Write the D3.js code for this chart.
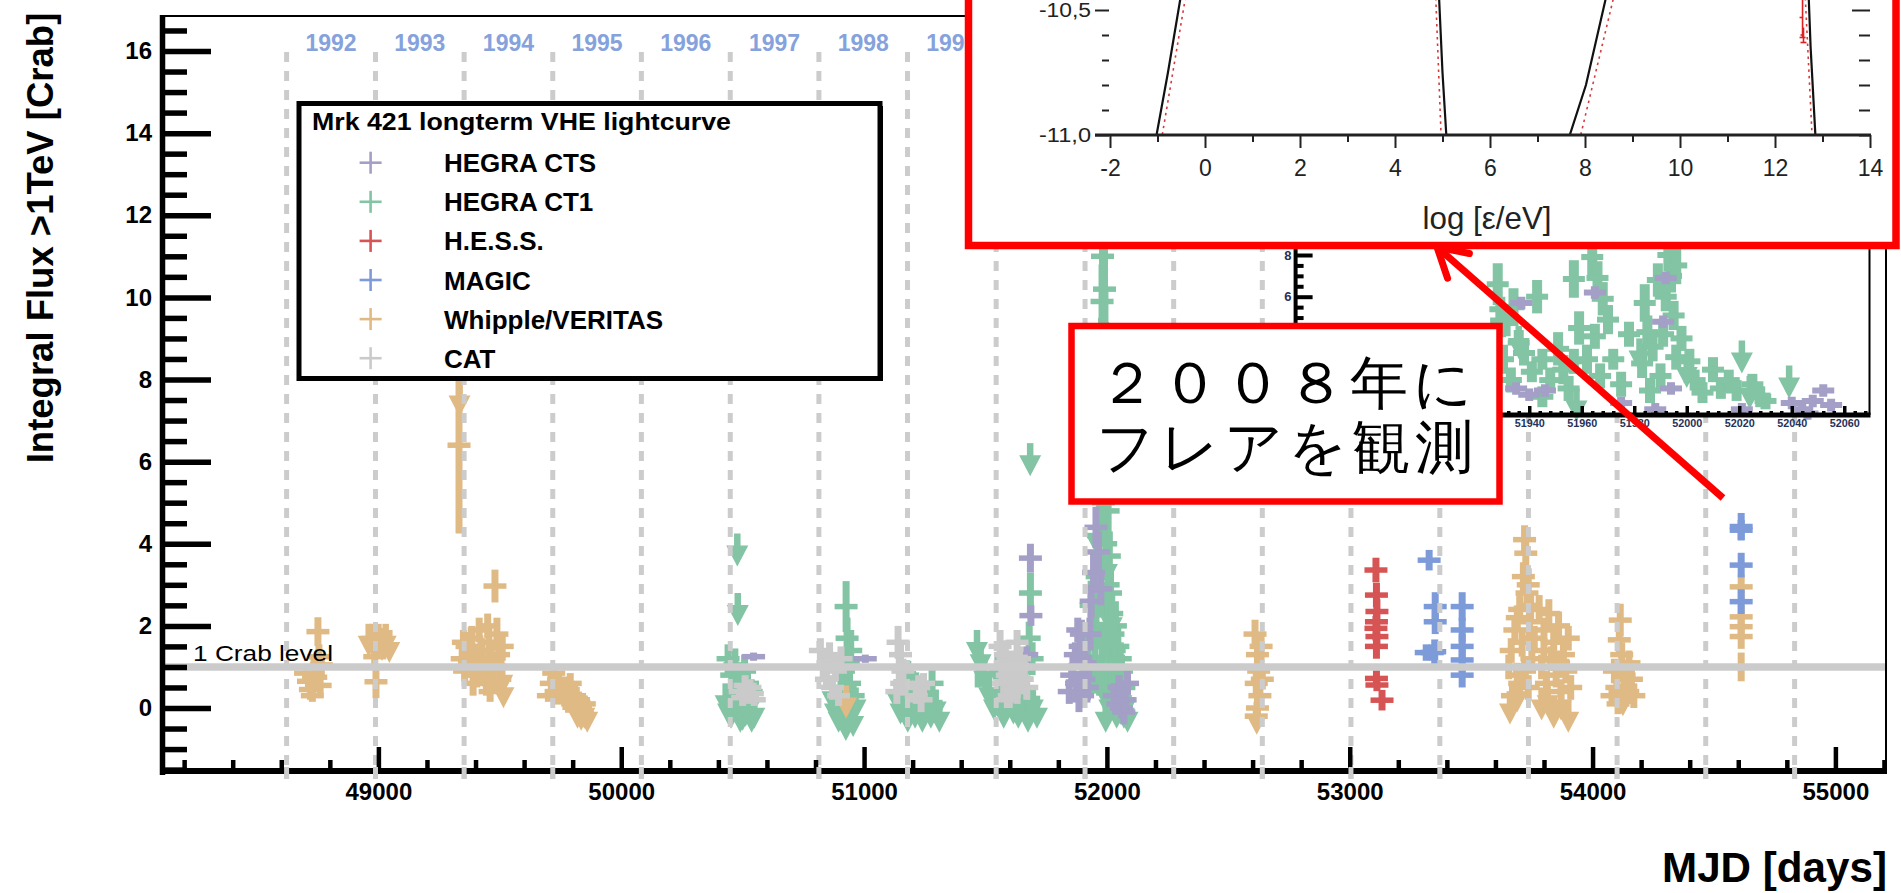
<!DOCTYPE html>
<html lang="ja">
<head>
<meta charset="utf-8">
<title>Mrk 421 longterm VHE lightcurve</title>
<script src="https://cdn.jsdelivr.net/npm/d3@7/dist/d3.min.js"></script>
<style>
  html, body { margin: 0; padding: 0; background: #fff; overflow: hidden; }
  svg { display: block; }
  text { font-family: "Liberation Sans", Arial, Helvetica, sans-serif; }
</style>
</head>
<body>
<svg id="chart" width="1901" height="893"></svg>
<script>
// ---------------- data ----------------
// MJD of 1 January for each observing year 1992 ... 2009
const seasonStarts = [48622, 48988, 49353, 49718, 50083, 50449, 50814, 51179, 51544,
                      51910, 52275, 52640, 53005, 53371, 53736, 54101, 54466, 54832];
const seasonLabels = ["1992", "1993", "1994", "1995", "1996", "1997", "1998", "1999"];
const mjdTicks = [49000, 50000, 51000, 52000, 53000, 54000, 55000];
const fluxTicks = [0, 2, 4, 6, 8, 10, 12, 14, 16];
const crabLevel = 1;

const instruments = ["HEGRA CTS", "HEGRA CT1", "H.E.S.S.", "MAGIC", "Whipple/VERITAS", "CAT"];
const instrumentColors = ["#a39fc6", "#82c4a3", "#d65454", "#7d9bd9", "#e0ba84", "#cacaca"];

// measurements: [MJD, integral flux > 1 TeV (Crab units), error]
const hegraCTS = [
  [50545, 1.25, 0.1], [51005, 1.2, 0.1],
  [51685, 3.65, 0.35], [51687, 2.25, 0.25], [51670, 1.3, 0.2],
  [51845, 0.4, 0.3], [51855, 0.8, 0.3], [51860, 1.0, 0.3], [51870, 1.3, 0.3], [51875, 0.6, 0.3],
  [51880, 1.9, 0.3], [51885, 0.2, 0.3], [51890, 1.5, 0.35], [51895, 1.8, 0.35], [51900, 0.3, 0.3],
  [51905, 0.7, 0.3], [51910, 1.1, 0.3], [51920, 0.5, 0.3], [51925, 1.0, 0.3], [51930, 1.8, 0.4],
  [51935, 2.6, 0.4], [51945, 3.3, 0.5], [51955, 4.4, 0.5], [51965, 3.8, 0.5], [51975, 2.9, 0.4],
  [52030, 0.3, 0.3], [52045, 0.1, 0.25], [52050, 0.5, 0.3], [52060, 0.0, 0.25], [52070, -0.1, 0.3],
  [52075, 0.2, 0.3], [52085, 0.6, 0.3]
];
const hegraCT1 = [
  [50440, 1.2, 0.35], [50455, 0.8, 0.3], [50468, 1.05, 0.4], [50480, 0.5, 0.4], [50495, 0.3, 0.35],
  [50508, 0.9, 0.4], [50520, 0.6, 0.35], [50535, 0.4, 0.3],
  [50926, 2.47, 0.62], [50930, 1.7, 0.5], [50935, 1.1, 0.5], [50915, 0.9, 0.4], [50940, 0.6, 0.4],
  [50945, 1.4, 0.5], [50905, 0.5, 0.4], [50955, 0.3, 0.35],
  [51160, 0.3, 0.4], [51200, 0.5, 0.4], [51260, 0.2, 0.3], [51280, 0.6, 0.35], [51180, 0.8, 0.35],
  [51685, 2.8, 0.5], [51680, 1.7, 0.4], [51692, 1.2, 0.4], [51470, 1.0, 0.5], [51600, 0.9, 0.4], [51650, 0.7, 0.4],
  [51985, 12.0, 1.5], [51990, 10.2, 1.0], [51980, 9.9, 0.9], [51995, 8.4, 1.0], [51975, 7.2, 0.9],
  [52000, 6.3, 0.8], [51970, 5.5, 0.8], [52005, 4.8, 0.7], [51965, 4.2, 0.7], [52010, 3.7, 0.6],
  [51960, 3.2, 0.6], [52015, 2.8, 0.6], [52020, 2.3, 0.5], [51955, 2.0, 0.5], [52025, 1.8, 0.5],
  [52030, 1.4, 0.4], [51950, 1.2, 0.4], [52035, 0.9, 0.4], [52040, 0.6, 0.35], [51945, 0.7, 0.35],
  [52050, 0.4, 0.3], [51900, 0.8, 0.4], [51920, 1.5, 0.5], [51935, 2.5, 0.6], [52060, 0.9, 0.4], [52070, 0.5, 0.3],
  [51995, 4.0, 0.8], [52005, 3.0, 0.7], [52015, 1.0, 0.5], [52025, 0.5, 0.5], [52035, 2.0, 0.6],
  [52045, 1.5, 0.5], [51985, 5.0, 1.0], [51990, 6.5, 1.2], [52000, 2.0, 0.8], [51975, 3.0, 0.8],
  [51980, 1.5, 0.6], [51970, 0.8, 0.5], [52055, 1.2, 0.4], [52065, 0.2, 0.4], [51990, 0.6, 0.5],
  [51982, 11.0, 1.2], [51992, 9.0, 1.2], [51978, 8.5, 1.0]
];
// upper limits: [MJD, flux upper limit (Crab units)]
const hegraCT1Limits = [
  [50478, 4.25], [50480, 2.8], [50430, 0.6], [50440, 0.4], [50452, 0.3], [50465, 0.55], [50490, 0.2],
  [50500, 0.25], [50512, 0.35], [50525, 0.45], [50537, 0.2], [50548, 0.3],
  [50880, 0.4], [50895, 0.2], [50910, 0.6], [50925, 0.0], [50940, 0.3], [50955, 0.1], [50870, 0.7],
  [50935, 1.5], [50965, 0.5],
  [51135, 0.7], [51150, 0.4], [51165, 0.5], [51180, 0.2], [51195, 0.6], [51210, 0.3], [51225, 0.5],
  [51240, 0.2], [51255, 0.4], [51275, 0.3], [51295, 0.45], [51310, 0.2],
  [51465, 1.9], [51480, 1.6], [51495, 1.2], [51515, 0.8], [51535, 0.5], [51555, 0.7], [51575, 0.3],
  [51595, 0.6], [51615, 0.4], [51635, 0.3], [51655, 0.5], [51675, 0.2], [51695, 0.5], [51712, 0.3],
  [51684, 6.45], [51550, 1.3], [51640, 1.2],
  [51960, 4.5], [52000, 3.8], [52020, 2.5], [52030, 1.5], [52045, 0.9], [52060, 0.6], [52010, 0.5],
  [51975, 1.0], [52070, 0.3], [51990, 2.0],
  [52040, 0.3], [52055, 0.4], [52075, 0.5], [52020, 0.8], [51995, 0.2], [52085, 0.2]
];
const hess = [
  [53108, 3.36, 0.3], [53110, 2.75, 0.3], [53112, 2.35, 0.3], [53110, 2.1, 0.3], [53108, 1.94, 0.3],
  [53112, 1.74, 0.3], [53110, 1.5, 0.3], [53110, 0.72, 0.2], [53112, 0.56, 0.15], [53133, 0.19, 0.25]
];
const magic = [
  [53327, 3.6, 0.25], [53352, 2.47, 0.35], [53352, 2.1, 0.3], [53350, 1.37, 0.3], [53315, 1.35, 0.2],
  [53340, 1.35, 0.2], [53463, 2.47, 0.35], [53463, 1.9, 0.3], [53463, 1.5, 0.3], [53463, 1.17, 0.3],
  [53463, 0.8, 0.3],
  [54612, 4.42, 0.33], [54612, 4.33, 0.25], [54612, 3.48, 0.3], [54612, 2.59, 0.3]
];
const whipple = [
  [48700, 0.85, 0.15], [48712, 0.65, 0.2], [48720, 0.45, 0.25], [48728, 0.3, 0.15], [48735, 1.0, 0.3],
  [48742, 0.75, 0.2], [48751, 1.86, 0.35], [48755, 1.25, 0.3], [48760, 0.55, 0.2], [48765, 1.05, 0.25],
  [48985, 1.25, 0.3], [48990, 0.64, 0.4], [49005, 1.5, 0.3],
  [49332, 6.4, 2.15],
  [49345, 1.2, 0.3], [49355, 0.9, 0.25], [49365, 1.5, 0.35], [49375, 1.1, 0.3], [49385, 1.7, 0.3],
  [49395, 1.3, 0.25], [49405, 0.8, 0.3], [49415, 1.9, 0.3], [49425, 1.4, 0.3], [49435, 1.0, 0.25],
  [49445, 0.6, 0.3], [49455, 1.6, 0.35], [49465, 1.2, 0.3], [49472, 0.9, 0.25], [49480, 2.97, 0.4],
  [49488, 1.8, 0.4], [49495, 1.3, 0.3], [49500, 0.7, 0.3], [49505, 1.0, 0.3], [49510, 1.5, 0.35],
  [49350, 1.6, 0.3], [49390, 0.6, 0.3], [49420, 1.1, 0.3], [49450, 2.0, 0.3], [49460, 0.4, 0.25],
  [49700, 0.3, 0.15], [49712, 0.6, 0.25], [49722, 0.85, 0.2], [49732, 0.4, 0.25], [49742, 0.7, 0.2],
  [49752, 0.3, 0.2], [49762, 0.55, 0.2], [49772, 0.15, 0.2], [49782, 0.45, 0.2], [49790, 0.6, 0.25],
  [49800, 0.1, 0.2], [49808, 0.3, 0.25], [49816, -0.05, 0.2], [49824, 0.2, 0.2], [49832, 0.0, 0.2],
  [49840, -0.1, 0.25], [49848, 0.1, 0.2],
  [52610, 1.8, 0.35], [52620, 1.3, 0.3], [52625, 0.9, 0.3], [52615, 0.6, 0.3], [52630, 0.3, 0.3],
  [52620, 0.0, 0.3], [52635, 1.5, 0.35], [52640, 0.7, 0.25], [52615, -0.2, 0.2],
  [53720, 4.1, 0.35], [53725, 3.77, 0.3], [53715, 3.2, 0.35], [53730, 2.8, 0.4], [53700, 2.4, 0.35],
  [53740, 2.1, 0.35], [53680, 1.9, 0.3], [53710, 1.6, 0.35], [53665, 1.4, 0.3], [53750, 1.2, 0.35],
  [53655, 1.0, 0.3], [53690, 0.8, 0.3], [53735, 0.5, 0.3], [53670, 0.3, 0.3], [53700, 0.6, 0.3],
  [53760, 1.7, 0.3], [53745, 2.5, 0.35], [53720, 0.9, 0.3], [53735, 3.0, 0.4], [53690, 2.2, 0.3],
  [53780, 2.4, 0.35], [53800, 1.9, 0.3], [53820, 2.3, 0.35], [53840, 1.6, 0.3], [53860, 2.0, 0.35],
  [53880, 1.3, 0.3], [53900, 1.7, 0.3], [53790, 1.0, 0.3], [53810, 0.6, 0.3], [53830, 1.2, 0.3],
  [53850, 0.8, 0.3], [53870, 0.4, 0.3], [53890, 0.9, 0.3], [53910, 0.5, 0.3], [53800, 1.4, 0.3],
  [53860, 1.1, 0.3],
  [54114, 2.14, 0.4], [54110, 1.66, 0.3], [54120, 1.3, 0.3], [54090, 0.9, 0.3], [54100, 0.5, 0.3],
  [54130, 0.8, 0.3], [54145, 0.4, 0.3], [54160, 0.7, 0.3], [54080, 0.3, 0.25], [54150, 1.1, 0.3],
  [54170, 0.3, 0.3], [54105, 0.1, 0.25],
  [54612, 2.95, 0.3], [54612, 2.22, 0.3], [54612, 1.98, 0.25], [54612, 1.74, 0.3], [54612, 1.0, 0.35]
];
const whippleLimits = [
  [48960, 2.05], [48975, 2.05], [48990, 2.0], [49000, 2.05], [49015, 1.95], [49030, 2.05], [49045, 1.9],
  [49334, 7.9],
  [49440, 1.2], [49500, 1.0], [49510, 1.1], [49515, 0.8],
  [49820, 0.3], [49835, 0.25], [49848, 0.3], [49860, 0.2],
  [50926, 0.55], [52617, 0.15],
  [53660, 0.4], [53690, 0.7], [53790, 0.5], [53815, 0.6], [53840, 0.3], [53870, 0.5], [53900, 0.2],
  [54125, 0.6]
];
const cat = [
  [50490, 0.4, 0.2], [50500, 0.25, 0.2], [50510, 0.55, 0.25], [50520, 0.3, 0.2], [50530, 0.5, 0.2],
  [50540, 0.35, 0.2], [50548, 0.2, 0.15],
  [50820, 1.4, 0.3], [50832, 1.0, 0.3], [50845, 0.7, 0.25], [50858, 1.3, 0.3], [50870, 0.5, 0.3],
  [50882, 0.9, 0.25], [50895, 0.3, 0.25], [50905, 1.2, 0.3],
  [51140, 1.6, 0.4], [51145, 1.0, 0.35], [51150, 1.3, 0.3], [51155, 0.6, 0.3], [51160, 0.9, 0.3],
  [51135, 0.4, 0.3], [51225, 0.5, 0.3], [51235, 0.2, 0.3], [51245, 0.6, 0.25], [51215, 0.3, 0.2],
  [51560, 1.5, 0.4], [51567, 1.0, 0.35], [51575, 0.6, 0.3], [51582, 1.3, 0.35], [51590, 0.8, 0.3],
  [51598, 0.3, 0.3], [51606, 1.1, 0.3], [51614, 0.6, 0.3], [51622, 0.9, 0.3], [51630, 0.4, 0.3],
  [51640, 1.2, 0.3], [51650, 0.7, 0.3], [51660, 1.0, 0.3], [51670, 0.5, 0.3], [51590, 0.2, 0.2],
  [51630, 1.6, 0.3]
];

// zoom on the 2001 flare
const flareMjdTicks = [51860, 51880, 51900, 51920, 51940, 51960, 51980, 52000, 52020, 52040, 52060];
const flareFluxTicks = [2, 4, 6, 8, 10];
const flareCT1 = [
  [51928, 6.6, 1.0], [51929, 5.4, 0.6], [51927, 4.2, 0.8], [51930, 3.0, 0.7], [51933, 2.0, 0.6],
  [51934, 5.5, 0.9], [51943, 6.0, 0.8], [51938, 3.3, 0.6], [51941, 2.4, 0.5], [51945, 3.0, 0.5],
  [51957, 6.85, 0.9], [51951, 3.5, 0.8], [51953, 2.5, 0.7], [51955, 1.6, 0.6], [51957, 2.9, 0.6],
  [51964, 7.9, 0.9], [51966, 6.9, 0.8], [51968, 5.9, 0.8], [51970, 4.9, 0.7], [51965, 4.1, 0.6],
  [51972, 3.0, 0.5], [51984, 5.7, 0.9], [51985, 4.3, 0.8], [51983, 2.8, 0.7], [51986, 1.5, 0.6],
  [51993, 8.0, 0.8], [51994, 7.0, 0.8], [51992, 6.0, 0.7], [51995, 5.1, 0.7], [51991, 4.2, 0.6],
  [51996, 3.1, 0.6], [51990, 2.2, 0.6], [52001, 2.9, 0.6], [52003, 2.0, 0.5], [52010, 2.5, 0.6],
  [52013, 1.6, 0.5], [52016, 2.0, 0.5], [52025, 1.8, 0.5], [52028, 1.2, 0.5],
  [51931, 4.8, 0.7], [51936, 3.8, 0.6], [51948, 2.0, 0.6], [51959, 4.5, 0.8], [51962, 3.0, 0.7],
  [51967, 2.2, 0.6], [51975, 1.8, 0.6], [51978, 4.2, 0.6], [51987, 3.6, 0.7], [51998, 4.0, 0.6],
  [52006, 1.4, 0.5], [52019, 1.5, 0.5], [52030, 1.0, 0.4], [51945, 1.2, 0.5], [51989, 6.8, 0.8],
  [51996, 7.5, 0.9]
];
const flareCT1Limits = [
  [51982, 4.0], [52000, 3.2], [52021, 3.9], [52024, 2.2], [52039, 2.7], [51936, 4.6], [51958, 1.6]
];
const flareCTS = [
  [51937, 5.7, 0.3], [51935, 1.6, 0.3], [51940, 1.3, 0.3], [51946, 1.5, 0.3], [51965, 6.2, 0.3],
  [51992, 6.9, 0.3], [51991, 4.8, 0.3], [51994, 1.6, 0.3], [52040, 0.9, 0.3], [52044, 0.6, 0.3],
  [52048, 1.0, 0.3], [52052, 1.5, 0.3], [52055, 0.8, 0.3], [52046, 0.4, 0.3], [51975, 0.9, 0.3],
  [51988, 0.6, 0.3], [52021, 0.6, 0.3]
];

// spectral energy distribution panel: log(eps/eV) vs log(nu F_nu)
const sedEnergyTicks = [-2, 0, 2, 4, 6, 8, 10, 12, 14];
const sedEnergyMinor = [-1, 1, 3, 5, 7, 9, 11, 13];
const sedFluxTicks = [-11.0, -10.5];
const sedFluxMinor = [-10.9, -10.8, -10.7, -10.6, -10.4];
const sedModel = [
  [[-1.06, -11.05], [-1.02, -11.0], [-0.78, -10.75], [-0.47, -10.4]],
  [[4.91, -10.4], [4.93, -10.46], [5.0, -10.75], [5.08, -11.0], [5.09, -11.05]],
  [[7.65, -11.05], [7.68, -11.0], [8.02, -10.8], [8.43, -10.46], [8.5, -10.4]],
  [[12.7, -10.4], [12.75, -10.65], [12.85, -11.0], [12.86, -11.05]]
];
const sedModelAlt = [
  [[-0.94, -11.05], [-0.9, -11.0], [-0.42, -10.46], [-0.37, -10.4]],
  [[4.85, -10.4], [4.86, -10.46], [4.97, -11.0], [4.98, -11.05]],
  [[7.87, -11.05], [7.91, -11.0], [8.59, -10.46], [8.65, -10.4]],
  [[12.63, -10.4], [12.64, -10.46], [12.78, -11.0], [12.79, -11.05]]
];
const sedPoints = [[12.58, -10.53, 0.08], [12.6, -10.6, 0.03]];

// ---------------- layout ----------------
const svg = d3.select("#chart");
const plot = { left: 162, right: 1886, top: 16, bottom: 772 };
const x = d3.scaleLinear().domain([49000, 55000]).range([378.4, 1835.4]);
const y = d3.scaleLinear().domain([0, 16]).range([708, 51]);
const colorOf = name => instrumentColors[instruments.indexOf(name)];

// panels drawn on top of the light curve
const noteBox = { x: 1071.5, y: 326, w: 428, h: 175.5 };
const sedBox = { x: 968.5, y: -10, w: 927.5, h: 255.5 };
const covered = (px, py) =>
  (px > noteBox.x - 4 && px < noteBox.x + noteBox.w + 4 && py > noteBox.y - 4 && py < noteBox.y + noteBox.h + 4) ||
  (px > sedBox.x - 4 && py < sedBox.y + sedBox.h + 4);

const defs = svg.append("defs");
defs.append("clipPath").attr("id", "clip-main").append("rect")
  .attr("x", plot.left).attr("y", plot.top)
  .attr("width", plot.right - plot.left).attr("height", plot.bottom - plot.top);

// error-bar crosses
function drawCrosses(g, rows, xs, ys, color, arm, vWidth, hWidth) {
  const sel = g.selectAll(null).data(rows).enter().append("g");
  sel.append("line")
    .attr("x1", d => xs(d[0])).attr("x2", d => xs(d[0]))
    .attr("y1", d => ys(d[1] + d[2])).attr("y2", d => ys(d[1] - d[2]))
    .attr("stroke", color).attr("stroke-width", vWidth);
  sel.append("line")
    .attr("x1", d => xs(d[0]) - arm).attr("x2", d => xs(d[0]) + arm)
    .attr("y1", d => ys(d[1])).attr("y2", d => ys(d[1]))
    .attr("stroke", color).attr("stroke-width", hWidth);
}
// upper-limit arrows
function drawLimits(g, rows, xs, ys, color) {
  const sel = g.selectAll(null).data(rows).enter().append("g");
  sel.append("line")
    .attr("x1", d => xs(d[0])).attr("x2", d => xs(d[0]))
    .attr("y1", d => ys(d[1])).attr("y2", d => ys(d[1]) + 13)
    .attr("stroke", color).attr("stroke-width", 6.5);
  sel.append("path")
    .attr("d", d => {
      const px = xs(d[0]), py = ys(d[1]);
      return `M${px - 11},${py + 12}L${px + 11},${py + 12}L${px},${py + 33}Z`;
    })
    .attr("fill", color);
}

// ---------------- main light curve ----------------
const dataLayer = svg.append("g").attr("clip-path", "url(#clip-main)");
const VW = 7, HW = 5.5, ARM = 11.5;
drawCrosses(dataLayer, hegraCT1, x, y, colorOf("HEGRA CT1"), ARM, VW, HW);
drawLimits(dataLayer, hegraCT1Limits, x, y, colorOf("HEGRA CT1"));
drawCrosses(dataLayer, hegraCTS, x, y, colorOf("HEGRA CTS"), ARM, VW, HW);
drawCrosses(dataLayer, hess, x, y, colorOf("H.E.S.S."), ARM, VW, HW);
drawCrosses(dataLayer, whipple, x, y, colorOf("Whipple/VERITAS"), ARM, VW, HW);
drawLimits(dataLayer, whippleLimits, x, y, colorOf("Whipple/VERITAS"));
drawCrosses(dataLayer, magic, x, y, colorOf("MAGIC"), ARM, VW, HW);
drawCrosses(dataLayer, cat, x, y, colorOf("CAT"), ARM, VW, HW);

// year boundaries
svg.append("g").selectAll("line").data(seasonStarts).enter().append("line")
  .attr("x1", d => x(d)).attr("x2", d => x(d))
  .attr("y1", 52).attr("y2", 779)
  .attr("stroke", "#cccccc").attr("stroke-width", 5)
  .attr("stroke-dasharray", "10,9");

svg.append("g").selectAll("text").data(seasonLabels).enter().append("text")
  .attr("x", (d, i) => (x(seasonStarts[i]) + x(seasonStarts[i + 1])) / 2)
  .attr("y", 51)
  .attr("text-anchor", "middle")
  .attr("font-size", 23).attr("font-weight", "bold")
  .attr("fill", "#86a2dc")
  .text(d => d);

// 1 Crab reference level
svg.append("line")
  .attr("x1", plot.left).attr("x2", plot.right)
  .attr("y1", y(crabLevel)).attr("y2", y(crabLevel))
  .attr("stroke", "#cbcbcb").attr("stroke-width", 7.5);
svg.append("text")
  .attr("x", 193).attr("y", y(crabLevel) - 6)
  .attr("font-size", 22).attr("fill", "#000")
  .attr("textLength", 140).attr("lengthAdjust", "spacingAndGlyphs")
  .text("1 Crab level");

// frame
svg.append("line").attr("x1", plot.left).attr("x2", plot.right)
  .attr("y1", plot.top).attr("y2", plot.top).attr("stroke", "#000").attr("stroke-width", 2);
svg.append("line").attr("x1", plot.right).attr("x2", plot.right)
  .attr("y1", plot.top).attr("y2", plot.bottom).attr("stroke", "#000").attr("stroke-width", 2);

// y axis: inward ticks
const yMinor = d3.range(-3, 34).map(k => k / 2).filter(v => v % 2 !== 0);
const yAxisMinor = svg.append("g").attr("transform", `translate(${plot.left},0)`)
  .call(d3.axisRight(y).tickValues(yMinor).tickSize(25).tickFormat(""));
const yAxisMajor = svg.append("g").attr("transform", `translate(${plot.left},0)`)
  .call(d3.axisRight(y).tickValues(fluxTicks).tickSize(49).tickFormat(""));
[yAxisMinor, yAxisMajor].forEach(g => {
  g.select(".domain").remove();
  g.selectAll("line").attr("stroke", "#000").attr("stroke-width", 5.5);
});
const yLabels = svg.append("g").attr("transform", `translate(${plot.left},0)`)
  .call(d3.axisLeft(y).tickValues(fluxTicks).tickSize(0).tickPadding(10));
yLabels.select(".domain").remove();
yLabels.selectAll("text").attr("font-size", 24).attr("font-weight", "bold")
  .attr("fill", "#000").attr("font-family", "Liberation Sans, Arial, sans-serif");
svg.append("line").attr("x1", plot.left + 0.5).attr("x2", plot.left + 0.5)
  .attr("y1", plot.top - 1).attr("y2", plot.bottom + 3)
  .attr("stroke", "#000").attr("stroke-width", 5.5);

// x axis: inward ticks
const xMinor = d3.range(48200, 55201, 200).filter(v => v % 1000 !== 0);
const xAxisMinor = svg.append("g").attr("transform", `translate(0,${plot.bottom - 1})`)
  .call(d3.axisTop(x).tickValues(xMinor).tickSize(11).tickFormat(""));
const xAxisMajor = svg.append("g").attr("transform", `translate(0,${plot.bottom - 1})`)
  .call(d3.axisTop(x).tickValues(mjdTicks).tickSize(24).tickFormat(""));
[xAxisMinor, xAxisMajor].forEach(g => {
  g.select(".domain").remove();
  g.selectAll("line").attr("stroke", "#000").attr("stroke-width", 4.5);
});
svg.append("line").attr("x1", plot.left - 2).attr("x2", plot.right + 1)
  .attr("y1", plot.bottom - 1).attr("y2", plot.bottom - 1)
  .attr("stroke", "#000").attr("stroke-width", 6);
const xLabels = svg.append("g").attr("transform", `translate(0,${plot.bottom})`)
  .call(d3.axisBottom(x).tickValues(mjdTicks).tickSize(0).tickPadding(11).tickFormat(d3.format("d")));
xLabels.select(".domain").remove();
xLabels.selectAll("text").attr("font-size", 24).attr("font-weight", "bold")
  .attr("fill", "#000").attr("font-family", "Liberation Sans, Arial, sans-serif");

// grid dashes cross the bottom axis line
svg.append("g").selectAll("line").data(seasonStarts).enter().append("line")
  .attr("x1", d => x(d)).attr("x2", d => x(d))
  .attr("y1", 767).attr("y2", 779)
  .attr("stroke", "#cccccc").attr("stroke-width", 5);

// axis titles
svg.append("text")
  .attr("transform", "translate(53,238) rotate(-90)")
  .attr("text-anchor", "middle")
  .attr("font-size", 36.5).attr("font-weight", "bold").attr("fill", "#000")
  .text("Integral Flux >1TeV [Crab]");
svg.append("text")
  .attr("x", 1887).attr("y", 882)
  .attr("text-anchor", "end")
  .attr("font-size", 42).attr("font-weight", "bold").attr("fill", "#000")
  .attr("textLength", 225).attr("lengthAdjust", "spacingAndGlyphs")
  .text("MJD [days]");

// ---------------- legend ----------------
const legend = svg.append("g");
legend.append("rect").attr("x", 299).attr("y", 103.5).attr("width", 581).attr("height", 275)
  .attr("fill", "#fff").attr("stroke", "#000").attr("stroke-width", 5);
legend.append("line").attr("x1", 301).attr("x2", 882).attr("y1", 379.5).attr("y2", 379.5)
  .attr("stroke", "#000").attr("stroke-width", 3);
legend.append("line").attr("x1", 881.5).attr("x2", 881.5).attr("y1", 106).attr("y2", 381)
  .attr("stroke", "#000").attr("stroke-width", 3);
legend.append("text").attr("x", 312).attr("y", 130)
  .attr("font-size", 23).attr("font-weight", "bold")
  .attr("textLength", 419).attr("lengthAdjust", "spacingAndGlyphs")
  .text("Mrk 421 longterm VHE lightcurve");
const rows = legend.selectAll("g.row").data(instruments).enter().append("g")
  .attr("class", "row")
  .attr("transform", (d, i) => `translate(0,${162.7 + i * 39.1})`);
rows.append("line").attr("x1", 359.6).attr("x2", 381.6).attr("y1", 0).attr("y2", 0)
  .attr("stroke", (d, i) => instrumentColors[i]).attr("stroke-width", 2.6);
rows.append("line").attr("x1", 370.6).attr("x2", 370.6).attr("y1", -11).attr("y2", 11)
  .attr("stroke", (d, i) => instrumentColors[i]).attr("stroke-width", 2.6);
rows.append("text").attr("x", 444).attr("y", 9.5)
  .attr("font-size", 26).attr("font-weight", "bold").attr("fill", "#000")
  .text(d => d);

// ---------------- 2001 flare zoom panel ----------------
const fx = d3.scaleLinear().domain([51851, 52070]).range([1295.6, 1870.5]);
const fy = d3.scaleLinear().domain([6, 8]).range([296.7, 255]);
const flareBox = { left: 1295.6, right: 1869.5, top: 100, bottom: 415 };
defs.append("clipPath").attr("id", "clip-flare").append("rect")
  .attr("x", flareBox.left).attr("y", flareBox.top)
  .attr("width", flareBox.right - flareBox.left).attr("height", 421 - flareBox.top);

const flare = svg.append("g");
flare.append("rect").attr("x", flareBox.left).attr("y", flareBox.top)
  .attr("width", plot.right - 1 - flareBox.left).attr("height", flareBox.bottom - flareBox.top)
  .attr("fill", "#fff");
const flareData = flare.append("g").attr("clip-path", "url(#clip-flare)");
drawCrosses(flareData, flareCT1, fx, fy, colorOf("HEGRA CT1"), 11, 10, 6);
drawLimits(flareData, flareCT1Limits, fx, fy, colorOf("HEGRA CT1"));
drawCrosses(flareData, flareCTS, fx, fy, colorOf("HEGRA CTS"), 11, 8, 6);

flare.append("line").attr("x1", flareBox.right).attr("x2", flareBox.right)
  .attr("y1", flareBox.top).attr("y2", flareBox.bottom)
  .attr("stroke", "#000").attr("stroke-width", 2);
const fyMinor = d3.range(1, 21).map(k => k / 2).filter(v => v % 2 !== 0);
const fyAxisMinor = flare.append("g").attr("transform", `translate(${flareBox.left},0)`)
  .call(d3.axisRight(fy).tickValues(fyMinor).tickSize(8).tickFormat(""));
const fyAxisMajor = flare.append("g").attr("transform", `translate(${flareBox.left},0)`)
  .call(d3.axisRight(fy).tickValues(flareFluxTicks).tickSize(17).tickFormat(""));
[fyAxisMinor, fyAxisMajor].forEach(g => {
  g.select(".domain").remove();
  g.selectAll("line").attr("stroke", "#000").attr("stroke-width", 4);
});
// tick labels only where the panel is not overlapped
const fyLabels = flare.append("g").attr("transform", `translate(${flareBox.left - 2},0)`)
  .call(d3.axisLeft(fy).tickValues(flareFluxTicks.filter(v => !covered(flareBox.left - 8, fy(v))))
    .tickSize(0).tickPadding(2).tickFormat(d3.format("d")));
fyLabels.select(".domain").remove();
fyLabels.selectAll("text").attr("font-size", 13).attr("font-weight", "bold").attr("fill", "#26315a")
  .attr("font-family", "Liberation Sans, Arial, sans-serif");
flare.append("line").attr("x1", flareBox.left).attr("x2", flareBox.left)
  .attr("y1", flareBox.top).attr("y2", flareBox.bottom + 2)
  .attr("stroke", "#000").attr("stroke-width", 4);

const fxMinor = d3.range(51852, 52069, 4).filter(v => (v - 51860) % 20 !== 0);
const fxAxisMinor = flare.append("g").attr("transform", `translate(0,${flareBox.bottom})`)
  .call(d3.axisTop(fx).tickValues(fxMinor).tickSize(4).tickFormat(""));
const fxAxisMajor = flare.append("g").attr("transform", `translate(0,${flareBox.bottom})`)
  .call(d3.axisTop(fx).tickValues(flareMjdTicks).tickSize(9).tickFormat(""));
[fxAxisMinor, fxAxisMajor].forEach(g => {
  g.select(".domain").remove();
  g.selectAll("line").attr("stroke", "#000").attr("stroke-width", 3.5);
});
flare.append("line").attr("x1", flareBox.left).attr("x2", flareBox.right + 1)
  .attr("y1", flareBox.bottom).attr("y2", flareBox.bottom)
  .attr("stroke", "#000").attr("stroke-width", 5);
const fxLabels = flare.append("g").attr("transform", `translate(0,${flareBox.bottom + 2})`)
  .call(d3.axisBottom(fx).tickValues(flareMjdTicks.filter(v => !covered(fx(v) - 16, flareBox.bottom + 8)))
    .tickSize(0).tickPadding(3).tickFormat(d3.format("d")));
fxLabels.select(".domain").remove();
fxLabels.selectAll("text").attr("font-size", 10).attr("font-weight", "bold").attr("fill", "#26315a")
  .attr("font-family", "Liberation Sans, Arial, sans-serif")
  .attr("textLength", 30).attr("lengthAdjust", "spacingAndGlyphs");

// ---------------- SED panel ----------------
const sx = d3.scaleLinear().domain([-2, 14]).range([1110, 1870]);
const sy = d3.scaleLinear().domain([-11, -10.5]).range([135, 10]);
defs.append("clipPath").attr("id", "clip-sed").append("rect")
  .attr("x", 1110).attr("y", -20).attr("width", 760).attr("height", 155);

const sed = svg.append("g");
sed.append("rect").attr("x", sedBox.x).attr("y", sedBox.y).attr("width", sedBox.w).attr("height", sedBox.h)
  .attr("fill", "#fff").attr("stroke", "#ff0000").attr("stroke-width", 7.5);

const sedLine = d3.line().x(d => sx(d[0])).y(d => sy(d[1]));
const sedCurves = sed.append("g").attr("clip-path", "url(#clip-sed)");
sedCurves.selectAll("path.alt").data(sedModelAlt).enter().append("path")
  .attr("class", "alt").attr("d", sedLine).attr("fill", "none")
  .attr("stroke", "#d23c3c").attr("stroke-width", 1.6).attr("stroke-dasharray", "2.5,4");
sedCurves.selectAll("path.model").data(sedModel).enter().append("path")
  .attr("class", "model").attr("d", sedLine).attr("fill", "none")
  .attr("stroke", "#111").attr("stroke-width", 2.2);
const sedPts = sedCurves.selectAll("g.pt").data(sedPoints).enter().append("g").attr("class", "pt");
sedPts.append("line")
  .attr("x1", d => sx(d[0])).attr("x2", d => sx(d[0]))
  .attr("y1", d => sy(d[1] + d[2])).attr("y2", d => sy(d[1] - d[2]))
  .attr("stroke", "#e02020").attr("stroke-width", 1.6);
sedPts.append("line")
  .attr("x1", d => sx(d[0]) - 3).attr("x2", d => sx(d[0]) + 3)
  .attr("y1", d => sy(d[1] - d[2])).attr("y2", d => sy(d[1] - d[2]))
  .attr("stroke", "#e02020").attr("stroke-width", 1.6);
sedPts.append("line")
  .attr("x1", d => sx(d[0]) - 3).attr("x2", d => sx(d[0]))
  .attr("y1", d => sy(d[1])).attr("y2", d => sy(d[1]))
  .attr("stroke", "#e02020").attr("stroke-width", 1.6);

function styleSedAxis(g) {
  g.select(".domain").remove();
  g.selectAll("line").attr("stroke", "#222").attr("stroke-width", 2);
}
styleSedAxis(sed.append("g").attr("transform", "translate(0,135)")
  .call(d3.axisBottom(sx).tickValues(sedEnergyMinor).tickSize(7).tickFormat("")));
const sedXMajor = sed.append("g").attr("transform", "translate(0,135)")
  .call(d3.axisBottom(sx).tickValues(sedEnergyTicks).tickSize(13).tickPadding(12).tickFormat(d3.format("d")));
styleSedAxis(sedXMajor);
sedXMajor.selectAll("text").attr("font-size", 23).attr("fill", "#222")
  .attr("font-family", "Liberation Sans, Arial, sans-serif")
  .text(d => (d < 0 ? "-" + Math.abs(d) : d));
styleSedAxis(sed.append("g").attr("transform", "translate(1109,0)")
  .call(d3.axisLeft(sy).tickValues(sedFluxMinor).tickSize(7).tickFormat("")));
const sedYMajor = sed.append("g").attr("transform", "translate(1109,0)")
  .call(d3.axisLeft(sy).tickValues(sedFluxTicks).tickSize(14).tickPadding(4)
    .tickFormat(d => d.toFixed(1).replace(".", ",")));
styleSedAxis(sedYMajor);
sedYMajor.selectAll("text").attr("font-size", 20).attr("fill", "#222")
  .attr("font-family", "Liberation Sans, Arial, sans-serif")
  .attr("textLength", 52).attr("lengthAdjust", "spacingAndGlyphs");
styleSedAxis(sed.append("g").attr("transform", "translate(1870,0)")
  .call(d3.axisLeft(sy).tickValues(sedFluxMinor.concat([-11.0])).tickSize(11).tickFormat("")));
styleSedAxis(sed.append("g").attr("transform", "translate(1870,0)")
  .call(d3.axisLeft(sy).tickValues([-10.5]).tickSize(18).tickFormat("")));
sed.append("line").attr("x1", 1095).attr("x2", 1871).attr("y1", 135).attr("y2", 135)
  .attr("stroke", "#222").attr("stroke-width", 3);
sed.append("text").attr("x", 1487).attr("y", 229).attr("text-anchor", "middle")
  .attr("font-family", "Liberation Serif, 'Times New Roman', serif")
  .attr("font-size", 32).attr("fill", "#222")
  .attr("textLength", 129).attr("lengthAdjust", "spacingAndGlyphs")
  .text("log [ε/eV]");

// ---------------- annotation ----------------
const note = svg.append("g");
note.append("rect").attr("x", noteBox.x).attr("y", noteBox.y).attr("width", noteBox.w).attr("height", noteBox.h)
  .attr("fill", "#fff").attr("stroke", "#ff0000").attr("stroke-width", 6.5);
const noteLines = ["２００８年に", "フレアを観測"];
note.selectAll("text").data(noteLines).enter().append("text")
  .attr("x", 1287).attr("y", (d, i) => 382 + i * 64)
  .attr("text-anchor", "middle").attr("dominant-baseline", "central")
  .attr("font-family", "'Noto Serif CJK JP', 'Noto Sans CJK JP', sans-serif")
  .attr("font-weight", 300)
  .attr("font-size", 58).attr("letter-spacing", 5).attr("fill", "#000")
  .text(d => d);

const arrowTip = [1437, 247], arrowTail = [1723, 498];
const ang = Math.atan2(arrowTail[1] - arrowTip[1], arrowTail[0] - arrowTip[0]);
const head = [ang + Math.PI / 6, ang - Math.PI / 6].map(a =>
  [arrowTip[0] + 33 * Math.cos(a), arrowTip[1] + 33 * Math.sin(a)]);
note.append("path")
  .attr("d", `M${arrowTail[0]},${arrowTail[1]}L${arrowTip[0]},${arrowTip[1]}`)
  .attr("stroke", "#ff0000").attr("stroke-width", 7).attr("fill", "none");
note.append("path")
  .attr("d", `M${head[0][0]},${head[0][1]}L${arrowTip[0]},${arrowTip[1]}L${head[1][0]},${head[1][1]}`)
  .attr("stroke", "#ff0000").attr("stroke-width", 7).attr("fill", "none")
  .attr("stroke-linecap", "round").attr("stroke-linejoin", "miter");
</script>
</body>
</html>
